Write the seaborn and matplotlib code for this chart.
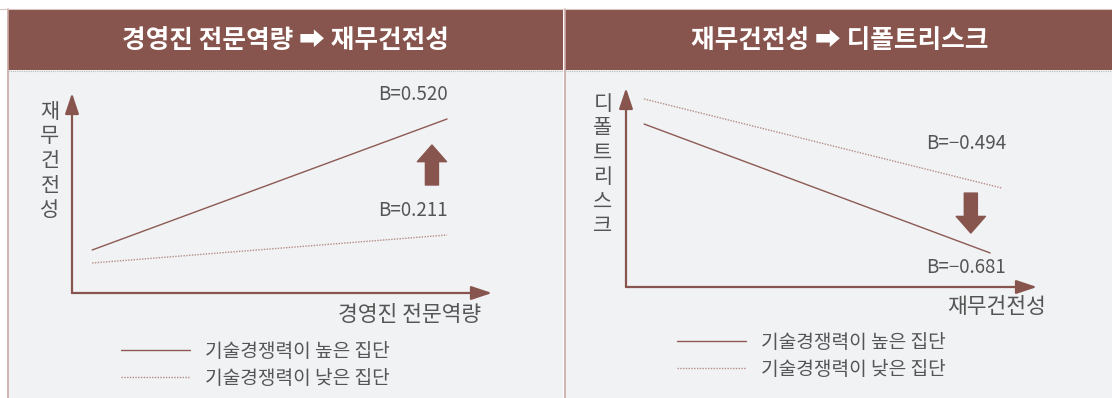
import matplotlib
matplotlib.use('Agg')
import pandas as pd
import matplotlib.pyplot as plt
import seaborn as sns
from matplotlib.patches import Rectangle
from matplotlib.lines import Line2D

# Chart data (positions on a 0-10 schematic scale)
groups = ['기술경쟁력이 높은 집단', '기술경쟁력이 낮은 집단']
left_x = [0.48, 8.93]
left_high = [2.15, 8.7]
left_low = [1.5, 2.9]
right_x = [0.44, 8.86]
right_x_low = [0.44, 9.15]
right_high = [8.19, 1.71]
right_low = [9.45, 4.97]
left_b = ['B=0.520', 'B=0.211']
right_b = ['B=−0.494', 'B=−0.681']
titles = ['경영진 전문역량 ➡ 재무건전성', '재무건전성 ➡ 디폴트리스크']
y_labels = ['재무건전성', '디폴트리스크']
x_labels = ['경영진 전문역량', '재무건전성']

sns.set_style('white')
plt.rcParams['font.family'] = ['Noto Sans CJK KR', 'DejaVu Sans']

BROWN = '#87554D'
LINE = '#8C5A52'
DOT = '#B58C86'
BG = '#F1F2F4'
GRAY = '#555555'

W, H = 1112, 398
fig = plt.figure(figsize=(W / 100, H / 100), dpi=100)
fig.patch.set_facecolor('white')


def fx(px):
    return px / W


def fy(py):
    return 1 - py / H


# panel backgrounds and title bands
for x0, x1 in [(8, 563), (565, 1112)]:
    fig.add_artist(Rectangle((fx(x0), 0), fx(x1 - x0), fy(70), transform=fig.transFigure,
                             facecolor=BG, edgecolor='none', zorder=0))
    fig.add_artist(Rectangle((fx(x0), fy(70)), fx(x1 - x0), (70 - 9) / H, transform=fig.transFigure,
                             facecolor=BROWN, edgecolor='none', zorder=0))
    fig.add_artist(Line2D([fx(x0), fx(x0)], [0, fy(9)], transform=fig.transFigure,
                          color='#C9A9A4', lw=1.2, zorder=1))
    fig.add_artist(Line2D([fx(x0), fx(x1)], [fy(70.5), fy(70.5)], transform=fig.transFigure,
                          color='#B9B9BC', lw=0.8, ls=(0, (1, 1)), zorder=1))
fig.add_artist(Line2D([0, 1], [fy(9), fy(9)], transform=fig.transFigure, color='#D9C4C1', lw=0.8))

fig.text(fx(285), fy(41), titles[0], color='white', fontsize=18.5, fontweight='bold', ha='center', va='center')
fig.text(fx(840), fy(41), titles[1], color='white', fontsize=18.5, fontweight='bold', ha='center', va='center')

palette = {groups[0]: LINE, groups[1]: DOT}
dashes = {groups[0]: '', groups[1]: (1, 1)}

df_left = pd.DataFrame({
    'x': left_x + left_x,
    'y': left_high + left_low,
    'group': [groups[0]] * 2 + [groups[1]] * 2,
})
df_right = pd.DataFrame({
    'x': right_x + right_x_low,
    'y': right_high + right_low,
    'group': [groups[0]] * 2 + [groups[1]] * 2,
})

ax1 = fig.add_axes([fx(72), fy(293), fx(420), 200 / H])
ax2 = fig.add_axes([fx(626), fy(287), fx(411), 199 / H])

for ax, df in [(ax1, df_left), (ax2, df_right)]:
    sns.lineplot(data=df, x='x', y='y', hue='group', style='group', palette=palette,
                 dashes=dashes, linewidth=1.0, ax=ax)
    ax.set_xlim(0, 10)
    ax.set_ylim(0, 10)
    ax.patch.set_alpha(0)
    for s in ax.spines.values():
        s.set_visible(False)
    ax.set_xticks([])
    ax.set_yticks([])
    ax.set_xlabel('')
    ax.set_ylabel('')
    # axis arrows
    arrow = dict(arrowstyle='-|>,head_length=0.9,head_width=0.3', color=BROWN, lw=1.6,
                 shrinkA=0, shrinkB=0, mutation_scale=14)
    ax.annotate('', xy=(1.0, 0), xytext=(0, 0), xycoords='axes fraction', arrowprops=arrow)
    ax.annotate('', xy=(0, 1.0), xytext=(0, 0), xycoords='axes fraction', arrowprops=arrow)

# annotations
ax1.text(7.29, 9.95, left_b[0], fontsize=13.5, color=GRAY, va='center')
ax1.text(7.29, 4.15, left_b[1], fontsize=13.5, color=GRAY, va='center')
ax2.text(7.3, 7.19, right_b[0], fontsize=13.5, color=GRAY, va='center')
ax2.text(7.3, 1.0, right_b[1], fontsize=13.5, color=GRAY, va='center')

block = dict(arrowstyle='simple,head_length=1.2,head_width=2.1,tail_width=0.94',
             color=BROWN, shrinkA=0, shrinkB=0, mutation_scale=10)
ax1.annotate('', xy=(8.57, 7.4), xytext=(8.57, 5.4), arrowprops=block)
ax2.annotate('', xy=(8.39, 2.71), xytext=(8.39, 4.72), arrowprops=block)

# axis titles
fig.text(fx(50), fy(161), '\n'.join(y_labels[0]), fontsize=15, color=GRAY,
         ha='center', va='center', linespacing=1.15)
fig.text(fx(603), fy(165), '\n'.join(y_labels[1]), fontsize=15, color=GRAY,
         ha='center', va='center', linespacing=1.15)
fig.text(fx(481), fy(315), x_labels[0], fontsize=15.5, color=GRAY, ha='right', va='center')
fig.text(fx(1046), fy(307), x_labels[1], fontsize=15.5, color=GRAY, ha='right', va='center')

# legends
for ax, lx, ly in [(ax1, 121, 341), (ax2, 677, 332)]:
    handles, labels = ax.get_legend_handles_labels()
    ax.legend(handles, labels, loc='upper left', bbox_to_anchor=(fx(lx), fy(ly)),
              bbox_transform=fig.transFigure, frameon=False, borderpad=0, borderaxespad=0,
              handlelength=3.6, handletextpad=0.78, fontsize=13.8, labelspacing=0.3,
              labelcolor=GRAY)

fig.savefig('out.png', dpi=100, facecolor='white')
